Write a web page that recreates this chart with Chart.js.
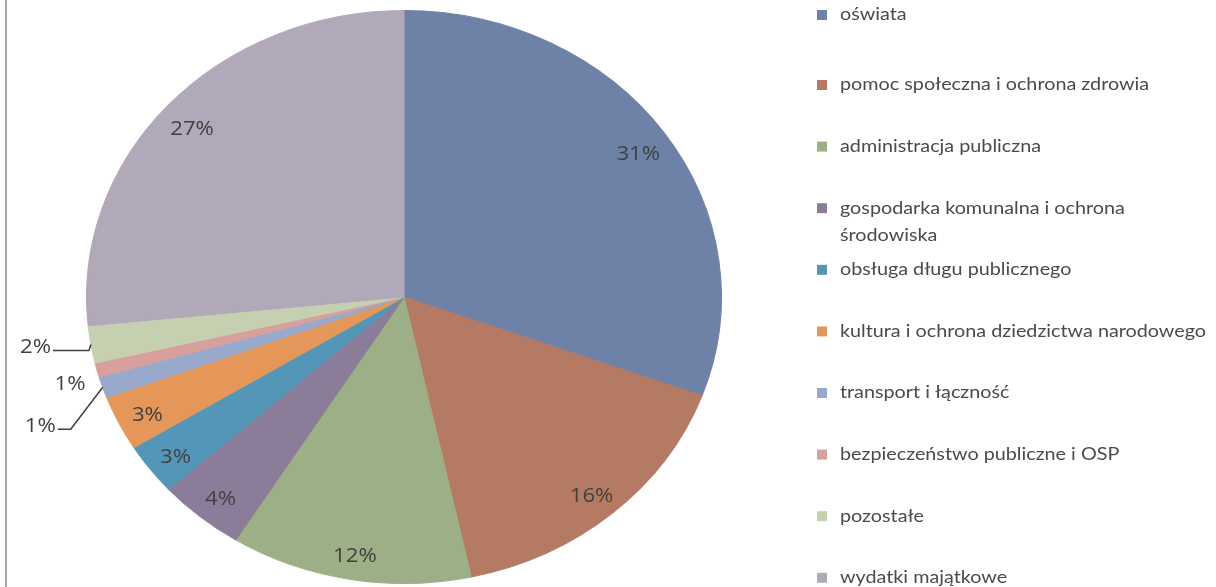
<!DOCTYPE html>
<html>
<head>
<meta charset="utf-8">
<script src="https://cdn.jsdelivr.net/npm/chart.js@4.4.0/dist/chart.umd.min.js"></script>
<style>
    html, body { margin: 0; padding: 0; background: #ffffff; }
    #wrap { width: 1216px; height: 587px; position: relative; }
</style>
</head>
<body>
<div id="wrap"><canvas id="pieChart"></canvas></div>
<script>
// Categories (legend order = slice order, clockwise from 12 o'clock)
const categories = [
    'oświata',
    'pomoc społeczna i ochrona zdrowia',
    'administracja publiczna',
    ['gospodarka komunalna i ochrona', 'środowiska'],
    'obsługa długu publicznego',
    'kultura i ochrona dziedzictwa narodowego',
    'transport i łączność',
    'bezpieczeństwo publiczne i OSP',
    'pozostałe',
    'wydatki majątkowe'
];

// Share of spending, %
const shares = [30.6, 16.0, 12.3, 4.4, 2.9, 3.1, 1.2, 0.8, 2.1, 26.6];

const sliceColors = [
    '#6e81a6', '#b57a64', '#9daf87', '#8b7d99', '#5496b7',
    '#e5975a', '#98a9cc', '#d8a09c', '#c5d0b1', '#b1a8b9'
];

const TEXT_COLOR = '#404040';
const STRETCH_X = 1.108;   // the reference pie is slightly wider than tall

// Small slices get an outside label (offsets from the slice's edge point)
const OUTSIDE_LABELS = {
    6: { elbow: [-32, 42], end: [-45, 42] },
    7: { text: [-27, 14] },
    8: { elbow: [-2, 6], end: [-38, 6] }
};

function toPct(v) {
    const total = shares.reduce((s, x) => s + x, 0);
    return Math.round(v / total * 100) + '%';
}

// Stretch the pie horizontally around its centre
const stretchPlugin = {
    id: 'stretch',
    beforeDraw(chart) {
        const ctx = chart.ctx;
        ctx.save();
        ctx.fillStyle = '#ffffff';
        ctx.fillRect(0, 0, chart.width, chart.height);
        ctx.strokeStyle = '#a6a6a6';
        ctx.lineWidth = 2;
        ctx.beginPath();
        ctx.moveTo(6, 0);
        ctx.lineTo(6, chart.height);
        ctx.stroke();
        ctx.restore();
    },
    beforeDatasetsDraw(chart) {
        const arc = chart.getDatasetMeta(0).data[0];
        const ctx = chart.ctx;
        ctx.save();
        ctx.translate(arc.x, arc.y);
        ctx.scale(STRETCH_X, 1);
        ctx.translate(-arc.x, -arc.y);
    },
    afterDatasetsDraw(chart) {
        chart.ctx.restore();
    }
};

function stretchedText(ctx, text, x, y) {
    ctx.save();
    ctx.translate(x, y);
    ctx.scale(STRETCH_X, 1);
    ctx.fillText(text, 0, 0);
    ctx.restore();
}

// Percentage labels
const pctLabelPlugin = {
    id: 'pctLabels',
    afterDatasetsDraw(chart) {
        const ctx = chart.ctx;
        const meta = chart.getDatasetMeta(0);
        ctx.save();
        ctx.font = '20px "Open Sans", sans-serif';
        ctx.fillStyle = TEXT_COLOR;
        ctx.strokeStyle = TEXT_COLOR;
        ctx.lineWidth = 1.5;
        ctx.textBaseline = 'middle';
        meta.data.forEach((arc, i) => {
            const p = arc.getProps(['x', 'y', 'startAngle', 'endAngle', 'outerRadius'], true);
            const mid = (p.startAngle + p.endAngle) / 2;
            const text = toPct(shares[i]);
            const out = OUTSIDE_LABELS[i];
            const r = out ? p.outerRadius : p.outerRadius * 0.9;
            const px = p.x + Math.cos(mid) * r * STRETCH_X;
            const py = p.y + Math.sin(mid) * r;
            if (!out) {
                ctx.textAlign = 'center';
                stretchedText(ctx, text, px, py + 5);
                return;
            }
            if (out.text) {
                ctx.textAlign = 'center';
                stretchedText(ctx, text, px + out.text[0], py + out.text[1]);
                return;
            }
            ctx.beginPath();
            ctx.moveTo(px, py);
            ctx.lineTo(px + out.elbow[0], py + out.elbow[1]);
            ctx.lineTo(px + out.end[0], py + out.end[1]);
            ctx.stroke();
            ctx.textAlign = 'right';
            stretchedText(ctx, text, px + out.end[0] - 2, py + out.end[1] - 3);
        });
        ctx.restore();
    }
};

// Right-hand legend
const legendPlugin = {
    id: 'sideLegend',
    afterDraw(chart) {
        const ctx = chart.ctx;
        const boxX = 817, textX = 840, box = 10;
        const firstY = 15, secondY = 85, step = 61.6, lineH = 27;
        ctx.save();
        ctx.font = '17px Lato, sans-serif';
        ctx.textBaseline = 'middle';
        ctx.textAlign = 'left';
        const longest = ctx.measureText(categories[5]).width;
        const k = 366 / longest;
        categories.forEach((label, i) => {
            const y = i === 0 ? firstY : secondY + (i - 1) * step;
            ctx.fillStyle = sliceColors[i];
            ctx.fillRect(boxX, y - box / 2, box, box);
            ctx.fillStyle = '#4a4a4a';
            const lines = Array.isArray(label) ? label : [label];
            lines.forEach((line, j) => {
                ctx.save();
                ctx.translate(textX, y + j * lineH);
                ctx.scale(k, 1);
                ctx.fillText(line, 0, 0);
                ctx.restore();
            });
        });
        ctx.restore();
    }
};

const ctx = document.getElementById('pieChart').getContext('2d');
window.pieChart = new Chart(ctx, {
    type: 'pie',
    data: {
        labels: categories,
        datasets: [{
            data: shares,
            backgroundColor: sliceColors,
            borderColor: sliceColors,
            borderWidth: 1
        }]
    },
    options: {
        responsive: true,
        maintainAspectRatio: false,
        animation: false,
        layout: {
            padding: { left: 117, right: 525, top: 10, bottom: 3 }
        },
        plugins: {
            legend: { display: false },
            tooltip: { enabled: false }
        }
    },
    plugins: [stretchPlugin, pctLabelPlugin, legendPlugin]
});
</script>
</body>
</html>
